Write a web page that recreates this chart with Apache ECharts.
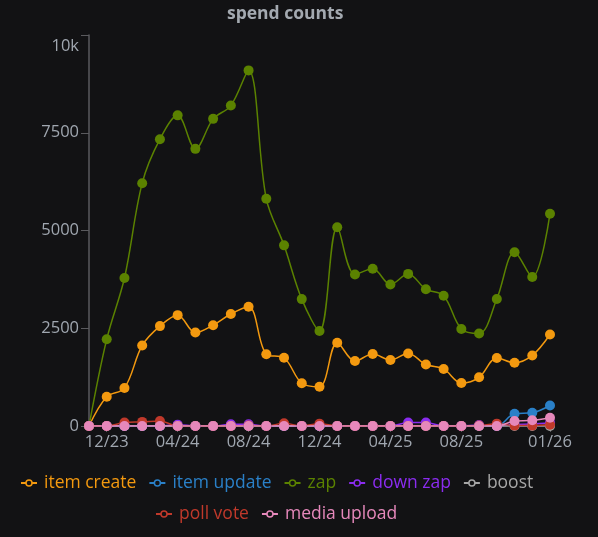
<!DOCTYPE html>
<html>
<head>
<meta charset="utf-8">
<script src="https://cdn.jsdelivr.net/npm/echarts@6/dist/echarts.min.js"></script>
<style>
  html, body { margin: 0; padding: 0; background: #121214; }
  #chart { width: 598px; height: 537px; }
</style>
</head>
<body>
<div id="chart"></div>
<script>
// months shown on the x axis (one point per month)
const months = [
  "11/23", "12/23", "01/24", "02/24", "03/24", "04/24", "05/24", "06/24",
  "07/24", "08/24", "09/24", "10/24", "11/24", "12/24", "01/25", "02/25",
  "03/25", "04/25", "05/25", "06/25", "07/25", "08/25", "09/25", "10/25",
  "11/25", "12/25", "01/26",
];
const tickMonths = ["12/23", "04/24", "08/24", "12/24", "04/25", "08/25", "01/26"];

const itemCreate = [
  0, 750, 970, 2060, 2555, 2835, 2390, 2578, 2864, 3050, 1836, 1746, 1094,
  1002, 2128, 1662, 1841, 1689, 1855, 1572, 1459, 1100, 1246, 1739, 1617,
  1805, 2340,
];
const itemUpdate = [
  0, 0, 0, 0, 0, 0, 0, 0, 0, 0, 0, 0, 0, 0, 0, 0, 0, 0, 0, 0, 0, 0, 0, 0,
  315, 340, 525,
];
const zap = [
  0, 2220, 3785, 6210, 7335, 7945, 7088, 7855, 8195, 9095, 5810, 4620, 3245,
  2428, 5085, 3875, 4020, 3620, 3890, 3497, 3333, 2482, 2365, 3249, 4445,
  3811, 5430,
];
const downZap = [
  0, 0, 0, 0, 0, 35, 0, 0, 45, 45, 0, 0, 0, 0, 0, 0, 0, 0, 90, 90, 0, 0, 25,
  0, 40, 50, 80,
];
const boost = [
  0, 0, 0, 0, 0, 0, 0, 0, 0, 0, 0, 0, 0, 0, 0, 0, 0, 0, 0, 0, 0, 0, 0, 0,
  0, 0, 0,
];
const pollVote = [
  0, 0, 90, 105, 130, 0, 0, 0, 0, 10, 0, 70, 0, 60, 0, 0, 0, 0, 0, 0, 0, 0,
  10, 60, 10, 10, 30,
];
const mediaUpload = [
  0, 0, 0, 0, 0, 0, 0, 0, 0, 0, 0, 0, 0, 0, 0, 0, 0, 0, 0, 0, 0, 0, 0, 0,
  128, 145, 212,
];

const seriesNames = ["item create", "item update", "zap", "down zap", "boost", "poll vote", "media upload"];
const seriesData = [itemCreate, itemUpdate, zap, downZap, boost, pollVote, mediaUpload];
const colors = ["#f3990f", "#2a80c8", "#5b8200", "#8b2cf0", "#a6a6a6", "#c0392b", "#e688bb"];

// line with a hollow ring in the middle
const legendIcon =
  "path://M0,14H9V18H0Z M23,14H32V18H23Z " +
  "M8.5,16A7.5,7.5 0 1,1 23.5,16A7.5,7.5 0 1,1 8.5,16Z " +
  "M11.5,16A4.5,4.5 0 1,0 20.5,16A4.5,4.5 0 1,0 11.5,16Z";

const chart = echarts.init(document.getElementById("chart"));

const showTick = function (idx, value) {
  return tickMonths.indexOf(value) > -1;
};

const legendItems = function (names) {
  return names.map(function (n) {
    return { name: n, textStyle: { color: colors[seriesNames.indexOf(n)] } };
  });
};

const legendBase = {
  orient: "horizontal",
  icon: legendIcon,
  itemWidth: 16,
  itemHeight: 7.5,
  itemGap: 13,
  padding: 0,
  itemStyle: { borderWidth: 0 },
  textStyle: { fontFamily: "Open Sans", fontSize: 17.5, padding: [0, 0, 0, 2] },
};

const option = {
  backgroundColor: "#121214",
  animation: false,
  title: {
    text: "spend counts",
    left: 227,
    top: 0,
    padding: [5, 0],
    textStyle: {
      color: "#a3a9b0",
      fontFamily: "Open Sans",
      fontSize: 17.5,
      fontWeight: "bold",
    },
  },
  legend: [
    Object.assign({}, legendBase, {
      left: 21,
      top: 474,
      data: legendItems(["item create", "item update", "zap", "down zap", "boost"]),
    }),
    Object.assign({}, legendBase, {
      left: 156,
      top: 505,
      data: legendItems(["poll vote", "media upload"]),
    }),
  ],
  grid: { left: 89, right: 48, top: 35, bottom: 111, containLabel: false },
  xAxis: {
    type: "category",
    data: months,
    boundaryGap: false,
    axisLine: { lineStyle: { color: "#5a5a5e", width: 1.5 } },
    axisTick: { interval: showTick, length: 6, lineStyle: { color: "#5a5a5e" } },
    axisLabel: {
      interval: showTick,
      margin: 8,
      color: "#a0a7b0",
      fontFamily: "Open Sans",
      fontSize: 16.5,
    },
    splitLine: { show: false },
  },
  yAxis: {
    type: "value",
    min: 0,
    max: 10000,
    interval: 2500,
    axisLine: { show: true, lineStyle: { color: "#5a5a5e", width: 1.5 } },
    axisTick: { show: true, length: 8, lineStyle: { color: "#5a5a5e" } },
    axisLabel: {
      margin: 10,
      color: "#a0a7b0",
      fontFamily: "Open Sans",
      fontSize: 16.5,
      formatter: function (v) {
        return v === 10000 ? "{top|10k}" : String(v);
      },
      rich: { top: { padding: [22, 0, 0, 0], color: "#a0a7b0", fontFamily: "Open Sans", fontSize: 16.5 } },
    },
    splitLine: { show: false },
  },
  series: seriesNames.map(function (name, i) {
    return {
      name: name,
      type: "line",
      data: seriesData[i],
      smooth: 0.35,
      symbol: "circle",
      symbolSize: 10,
      showAllSymbol: true,
      color: colors[i],
      lineStyle: { width: 1.5, color: colors[i] },
      itemStyle: { color: colors[i] },
    };
  }),
};

chart.setOption(option);
</script>
</body>
</html>
